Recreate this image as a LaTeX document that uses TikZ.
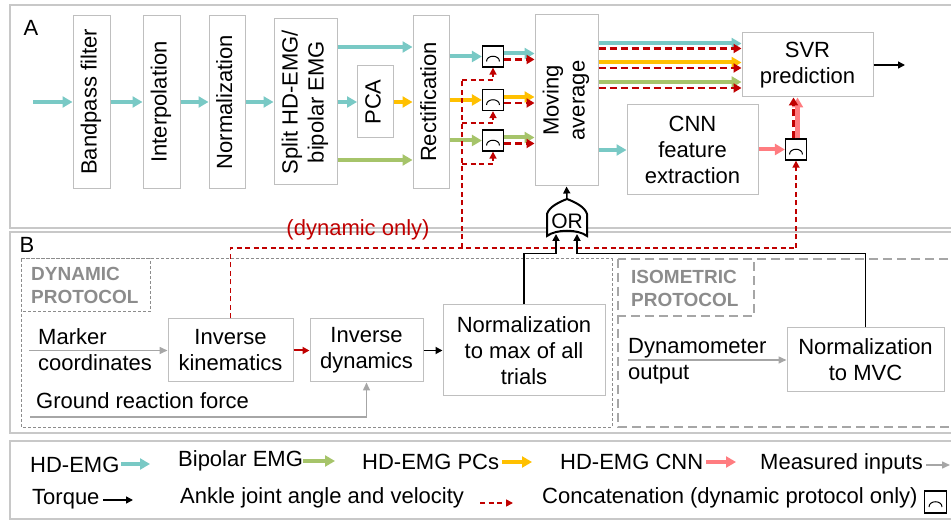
\documentclass[tikz,border=0pt]{standalone}
\usepackage{fontspec}
\setmainfont{Liberation Sans}
\usetikzlibrary{arrows.meta}
\definecolor{cteal}{HTML}{79C9C5}
\definecolor{cgreen}{HTML}{A6C46A}
\definecolor{corange}{HTML}{FFC000}
\definecolor{cpink}{HTML}{FF7C80}
\definecolor{cred}{HTML}{C00000}
\definecolor{cgray}{HTML}{A6A6A6}
\definecolor{bgray}{HTML}{BFBFBF}
\definecolor{pgray}{HTML}{C8C8C8}
\definecolor{tgray}{HTML}{8C8C8C}
\newcommand{\myfs}{\fontsize{22}{26}\selectfont}
\newcommand{\myrot}[1]{\rotatebox{90}{\begin{tabular}{@{}c@{}}#1\end{tabular}}}
\begin{document}
\begin{tikzpicture}[x=1pt,y=-1pt,
  box/.style={draw=bgray,line width=1pt,fill=white,inner sep=0pt,align=center,font=\myfs},
  txt/.style={inner sep=0pt,font=\myfs},
  lbl/.style={inner sep=0pt,align=left,text=tgray,font=\bfseries\fontsize{19}{23}\selectfont},
  cc/.style={draw=black,line width=1.3pt,fill=white,minimum width=21pt,minimum height=21pt,inner sep=0pt,
    path picture={\draw[line width=1pt] ([xshift=-6.5pt,yshift=-5pt]path picture bounding box.center) .. controls +(0,7pt) and +(0,7pt) .. ([xshift=6.5pt,yshift=-5pt]path picture bounding box.center);}},
  fat/.style={line width=4pt,-{Triangle[length=10pt,width=11pt]}},
  ta/.style={fat,draw=cteal},
  ga/.style={fat,draw=cgreen},
  oa/.style={fat,draw=corange},
  pa/.style={fat,draw=cpink},
  rdt/.style={draw=cred,line width=2.5pt,dash pattern=on 7pt off 4pt,-{Triangle[length=8pt,width=9pt]}},
  rdn/.style={draw=cred,line width=1.6pt,dash pattern=on 5pt off 3.5pt},
  rdna/.style={rdn,-{Triangle[length=7pt,width=7pt]}},
  rsa/.style={draw=cred,line width=2pt,-{Triangle[length=7pt,width=7pt]}},
  gra/.style={draw=cgray,line width=1.5pt,-{Triangle[length=8pt,width=7pt]}},
  bka/.style={draw=black,line width=1.8pt,-{Triangle[length=7pt,width=7pt]}},
  panel/.style={draw=pgray,line width=2pt}
]
\useasboundingbox (0,0) rectangle (951,521);
\clip (0,0) rectangle (951,521);

% panels
\draw[panel] (10,5) rectangle (1000,228);
\draw[panel] (10,232) rectangle (1000,433);
\draw[panel] (10,441) rectangle (1000,519);
\node[txt] (labA) at (31,28) {A};
\node[txt] (labB) at (27,245) {B};

% protocol frames
\draw[draw=tgray,line width=1pt,dash pattern=on 3pt off 2pt] (21,259) rectangle (612,427);
\draw[draw=tgray,line width=1pt,dash pattern=on 3pt off 2pt] (21,259) rectangle (150,312);
\draw[draw=cgray,line width=1.5pt,dash pattern=on 9pt off 5pt] (618,259) rectangle (1000,427);
\draw[draw=cgray,line width=1.5pt,dash pattern=on 9pt off 5pt] (618,259) rectangle (754,316);
\node[lbl,anchor=west] (dynl) at (31,285) {DYNAMIC\\PROTOCOL};
\node[lbl,anchor=west] (isol) at (631,288.5) {ISOMETRIC\\PROTOCOL};

% panel A boxes
\node[box,minimum width=37pt,minimum height=173pt] (bp) at (91.5,102) {\myrot{Bandpass filter}};
\node[box,minimum width=37pt,minimum height=173pt] (ip) at (161.5,102) {\myrot{Interpolation}};
\node[box,minimum width=36pt,minimum height=173pt] (nm) at (227,102) {\myrot{Normalization}};
\node[box,minimum width=63pt,minimum height=166pt] (sp) at (305.5,102) {\myrot{Split HD-EMG/\\bipolar EMG}};
\node[box,minimum width=36pt,minimum height=72pt] (pca) at (375.5,102) {\myrot{PCA}};
\node[box,minimum width=36pt,minimum height=173pt] (rc) at (431,102) {\myrot{Rectification}};
\node[box,minimum width=63pt,minimum height=171pt] (ma) at (566.5,100.5) {\myrot{Moving\\average}};
\node[box,minimum width=131pt,minimum height=64pt] (svr) at (807.5,65) {SVR\\prediction};
\node[box,minimum width=131pt,minimum height=90pt] (cnn) at (692.5,150) {CNN\\feature\\extraction};
\node[cc] (cc1) at (493,56.5) {};
\node[cc] (cc2) at (493,100) {};
\node[cc] (cc3) at (493,140.5) {};
\node[cc] (cc4) at (796,149.5) {};

% panel B boxes
\node[box,minimum width=125pt,minimum height=63pt] (ik) at (230.5,350.5) {Inverse\\kinematics};
\node[box,minimum width=113pt,minimum height=63pt] (id) at (366.5,350.5) {Inverse\\dynamics};
\node[box,minimum width=162pt,minimum height=91pt] (nmax) at (524,350.5) {Normalization\\to max of all\\trials};
\node[box,minimum width=157pt,minimum height=64pt] (nmvc) at (865.5,360) {Normalization\\to MVC};

% panel A connectors
\coordinate (in0) at (33,102);
\draw[ta] (in0) -- (bp.west);
\draw[ta] (bp.east) -- (ip.west);
\draw[ta] (ip.east) -- (nm.west);
\draw[ta] (nm.east) -- (sp.west);
\draw[ta] (sp.east) -- (pca.west);
\draw[oa] (pca.east) -- (pca.east -| rc.west);
\coordinate (yT) at (0,47);
\coordinate (yG) at (0,160);
\draw[ta] (sp.east |- yT) -- (rc.west |- yT);
\draw[ga] (sp.east |- yG) -- (rc.west |- yG);
\draw[ta] (rc.east |- cc1) -- (cc1.west);
\draw[oa] (rc.east |- cc2) -- (cc2.west);
\draw[ga] (rc.east |- cc3) -- (cc3.west);
\foreach \n/\s in {1/ta,2/oa,3/ga}{
  \coordinate (u\n) at ([yshift=3pt]cc\n.east);
  \coordinate (d\n) at ([yshift=-3pt]cc\n.east);
  \draw[\s] (u\n) -- (u\n -| ma.west);
  \draw[rdt] (d\n) -- (d\n -| ma.west);
}
\coordinate (m1) at (0,43.5);
\coordinate (m1r) at (0,48.5);
\coordinate (m2) at (0,62.5);
\coordinate (m2r) at (0,68);
\coordinate (m3) at (0,82);
\coordinate (m3r) at (0,88);
\draw[ta] (ma.east |- m1) -- (svr.west |- m1);
\draw[rdt] (ma.east |- m1r) -- (svr.west |- m1r);
\draw[oa] (ma.east |- m2) -- (svr.west |- m2);
\draw[rdt] (ma.east |- m2r) -- (svr.west |- m2r);
\draw[ga] (ma.east |- m3) -- (svr.west |- m3);
\draw[rdt] (ma.east |- m3r) -- (svr.west |- m3r);
\draw[ta] (ma.east |- cnn) -- (cnn.west);
\draw[pa] (cnn.east |- cc4) -- (cc4.west);
\coordinate (c4u) at ([xshift=1.5pt]cc4.north);
\coordinate (c4r) at ([xshift=-2.5pt]cc4.north);
\draw[pa,line width=5pt] (c4u) -- (c4u |- svr.south);
\draw[rdt] (c4r) -- (c4r |- svr.south);
\coordinate (out) at (905,65);
\draw[bka,line width=1.5pt] (svr.east) -- (out);

% red dashed network
\coordinate (rj1) at (462,248);
\coordinate (rj2) at (796,248);
\draw[rdn] (ik.north) |- (rj2);
\draw[rdna] (rj2) -- (cc4.south);
\coordinate (b1) at (462,80);
\coordinate (b2) at (462,123);
\coordinate (b3) at (462,164);
\draw[rdn] (rj1) -- (b1);
\draw[rdna] (b1) -| (cc1.south);
\draw[rdna] (b2) -| (cc2.south);
\draw[rdna] (b3) -| (cc3.south);
\node[txt,text=cred] (donly) at (358,230) {(dynamic only)};

% OR gate
\draw[line width=2pt,fill=white] (547,236) -- (547,214) .. controls (549,207) and (559,202) .. (567,199) .. controls (575,202) and (585,207) .. (587,214) -- (587,236) .. controls (578,229) and (556,229) .. (547,236) -- cycle;
\node[inner sep=0pt,font=\fontsize{21}{24}\selectfont] (orn) at (567,221) {OR};
\coordinate (orT) at (567,199);
\coordinate (orL) at (556,234);
\coordinate (orR) at (577,234);
\draw[bka,line width=1.5pt] (orT) -- (ma.south);
\draw[bka] (nmax.north) -- ++(0,-51) -| (orL);
\draw[bka] (nmvc.north) -- ++(0,-74) -| (orR);

% panel B connectors
\coordinate (mk0) at (29,350.5);
\draw[gra] (mk0) -- (ik.west);
\node[txt,anchor=west,align=left] (mk) at (38,350) {Marker\\coordinates};
\draw[rsa] (ik.east) -- (id.west);
\draw[bka] (id.east) -- (nmax.west);
\coordinate (gr0) at (30,417);
\draw[gra] (gr0) -| (id.south);
\node[txt,anchor=west] (grf) at (36,401) {Ground reaction force};
\coordinate (dy0) at (628,360);
\draw[gra] (dy0) -- (nmvc.west);
\node[txt,anchor=west,align=left] (dyn) at (628,361) {Dynamometer\\output};

% legend
\node[txt,anchor=west] (l1) at (30,465) {HD-EMG};
\coordinate (l1a) at (121,464); \coordinate (l1b) at (150,464);
\draw[ta] (l1a) -- (l1b);
\node[txt,anchor=west] (l2) at (178,461) {Bipolar EMG};
\coordinate (l2a) at (303,461); \coordinate (l2b) at (335,461);
\draw[ga] (l2a) -- (l2b);
\node[txt,anchor=west] (l3) at (362,462) {HD-EMG PCs};
\coordinate (l3a) at (502,462); \coordinate (l3b) at (532,462);
\draw[oa] (l3a) -- (l3b);
\node[txt,anchor=west] (l4) at (560,462) {HD-EMG CNN};
\coordinate (l4a) at (706,462); \coordinate (l4b) at (736,462);
\draw[pa] (l4a) -- (l4b);
\node[txt,anchor=west] (l5) at (760,464) {Measured inputs};
\coordinate (l5a) at (926,465); \coordinate (l5b) at (950,465);
\draw[gra] (l5a) -- (l5b);
\node[txt,anchor=west] (l6) at (32,499) {Torque};
\coordinate (l6a) at (103,500); \coordinate (l6b) at (133,500);
\draw[bka,line width=1.5pt] (l6a) -- (l6b);
\node[txt,anchor=west] (l7) at (180,498) {Ankle joint angle and velocity};
\coordinate (l7a) at (480,503); \coordinate (l7b) at (513,503);
\draw[rdna] (l7a) -- (l7b);
\node[txt,anchor=west] (l8) at (542,498) {Concatenation (dynamic protocol only)};
\node[cc,minimum width=22pt,minimum height=22pt] (lcc) at (935.5,502) {};
\end{tikzpicture}
\end{document}
